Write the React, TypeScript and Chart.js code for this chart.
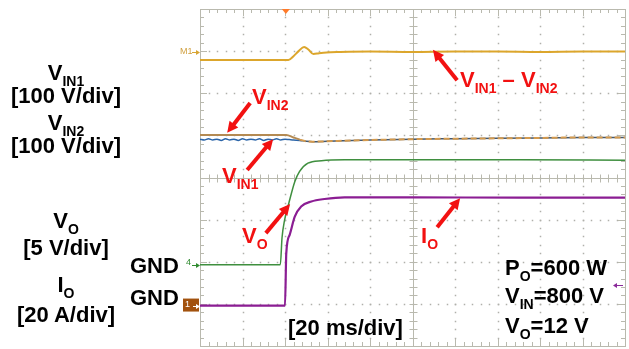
import React, { useEffect, useRef } from "react";
import { Chart, registerables } from "chart.js";
Chart.register(...registerables);

// Oscilloscope screen: 10 horizontal divisions (20 ms/div), 8 vertical divisions
const X_DIVS = 10;
const Y_DIVS = 8;

// V_IN1 - V_IN2 (math channel M1), in divisions
const diffX = [0, 2.08, 2.2, 2.32, 2.45, 2.55, 2.67, 2.8, 2.98, 3.3, 4, 5, 6, 7, 8, 9, 10];
const diffY = [6.79, 6.79, 6.88, 7.0, 7.1, 7.04, 6.93, 6.95, 6.97, 6.98, 6.99, 6.98, 6.99, 6.99, 6.98, 6.99, 6.99];

// V_IN2
const vin2X = [0, 2.03, 2.2, 2.35, 2.5, 2.65, 3.0, 4, 5, 6, 7, 8, 9, 10];
const vin2Y = [5.01, 5.01, 4.95, 4.9, 4.86, 4.85, 4.86, 4.89, 4.91, 4.92, 4.93, 4.94, 4.95, 4.95];

// V_IN1
const vin1X = [0, 0.1, 0.2, 0.3, 0.4, 0.5, 0.6, 0.7, 0.8, 0.9, 1.0, 1.1, 1.2, 1.3, 1.4, 1.5, 1.6, 1.7, 1.8, 1.9, 2.0, 2.1, 2.2, 2.35, 2.5, 2.65, 3.0, 4, 5, 6, 7, 8, 9, 10];
const vin1Y = [4.91, 4.89, 4.92, 4.89, 4.91, 4.88, 4.92, 4.89, 4.91, 4.88, 4.92, 4.89, 4.91, 4.89, 4.92, 4.88, 4.91, 4.89, 4.92, 4.89, 4.91, 4.9, 4.89, 4.88, 4.86, 4.85, 4.86, 4.89, 4.91, 4.92, 4.93, 4.94, 4.95, 4.95];

// V_O
const voX = [0, 1.89, 1.93, 1.99, 2.09, 2.23, 2.34, 2.54, 2.86, 3.4, 5, 7.5, 10];
const voY = [1.93, 1.93, 2.57, 2.99, 3.39, 3.9, 4.14, 4.34, 4.4, 4.42, 4.42, 4.42, 4.41];

// I_O
const ioX = [0, 2.0, 2.03, 2.11, 2.23, 2.38, 2.62, 2.93, 3.4, 5, 7.5, 10];
const ioY = [0.96, 0.96, 2.2, 2.64, 3.07, 3.31, 3.43, 3.49, 3.53, 3.53, 3.52, 3.52];

// channel reference markers (divisions)
const M1_LEVEL = 6.99;
const VO_GND = 1.93;
const IO_GND = 0.96;
const IO_TRIG = 1.45;
const TRIGGER_POS = 2.02;

// red annotation arrows: tail and tip, in divisions
const arrowTail = [
  [1.18, 5.77],
  [1.11, 4.18],
  [6.05, 6.31],
  [1.55, 2.68],
  [5.58, 2.82],
];
const arrowTip = [
  [0.64, 5.06],
  [1.72, 4.91],
  [5.48, 7.03],
  [2.12, 3.37],
  [6.12, 3.51],
];

const pts = (xs: number[], ys: number[]) => xs.map((x, i) => ({ x, y: ys[i] }));

const GRID = "#b9b9ae";
const DOT = "#b0b0aa";
const RED = "#f21111";

const graticule = {
  id: "graticule",
  beforeDatasetsDraw(chart: any) {
    const { ctx, chartArea: a, scales } = chart;
    const sx = scales.x, sy = scales.y;
    const px = (v: number) => Math.round(sx.getPixelForValue(v)) + 0.5;
    const py = (v: number) => Math.round(sy.getPixelForValue(v)) + 0.5;
    ctx.save();
    ctx.fillStyle = DOT;
    for (let i = 1; i < X_DIVS; i++) {
      if (i === X_DIVS / 2) continue;
      for (let j = 1; j < Y_DIVS * 5; j++) ctx.fillRect(px(i) - 0.75, py(j * 0.2) - 0.75, 1.5, 1.5);
    }
    for (let j = 1; j < Y_DIVS; j++) {
      if (j === Y_DIVS / 2) continue;
      for (let i = 1; i < X_DIVS * 5; i++) ctx.fillRect(px(i * 0.2) - 0.75, py(j) - 0.75, 1.5, 1.5);
    }
    ctx.strokeStyle = GRID;
    ctx.lineWidth = 1;
    ctx.beginPath();
    ctx.moveTo(px(X_DIVS / 2), a.top);
    ctx.lineTo(px(X_DIVS / 2), a.bottom);
    ctx.moveTo(a.left, py(Y_DIVS / 2));
    ctx.lineTo(a.right, py(Y_DIVS / 2));
    for (let i = 1; i < X_DIVS * 5; i++) {
      const xx = px(i * 0.2);
      const major = i % 5 === 0;
      ctx.moveTo(xx, py(Y_DIVS / 2) - 4);
      ctx.lineTo(xx, py(Y_DIVS / 2) + 4);
      ctx.moveTo(xx, a.top);
      ctx.lineTo(xx, a.top + (major ? 7 : 4));
      ctx.moveTo(xx, a.bottom);
      ctx.lineTo(xx, a.bottom - (major ? 7 : 4));
    }
    for (let j = 1; j < Y_DIVS * 5; j++) {
      const yy = py(j * 0.2);
      const major = j % 5 === 0;
      ctx.moveTo(px(X_DIVS / 2) - 4, yy);
      ctx.lineTo(px(X_DIVS / 2) + 4, yy);
      ctx.moveTo(a.left, yy);
      ctx.lineTo(a.left + (major ? 7 : 4), yy);
      ctx.moveTo(a.right, yy);
      ctx.lineTo(a.right - (major ? 7 : 4), yy);
    }
    ctx.stroke();
    ctx.strokeRect(px(0), py(Y_DIVS), px(X_DIVS) - px(0), py(0) - py(Y_DIVS));
    ctx.restore();
  },
};

const overlay = {
  id: "overlay",
  afterDatasetsDraw(chart: any) {
    const { ctx, chartArea: a, scales } = chart;
    const sx = scales.x, sy = scales.y;
    ctx.save();
    const rightArrow = (yv: number, color: string, x0: number) => {
      const yy = Math.round(sy.getPixelForValue(yv)) + 0.5;
      ctx.strokeStyle = color;
      ctx.fillStyle = color;
      ctx.lineWidth = 1;
      ctx.beginPath();
      ctx.moveTo(x0, yy);
      ctx.lineTo(a.left - 1, yy);
      ctx.stroke();
      ctx.beginPath();
      ctx.moveTo(a.left, yy);
      ctx.lineTo(a.left - 4, yy - 2.5);
      ctx.lineTo(a.left - 4, yy + 2.5);
      ctx.closePath();
      ctx.fill();
    };
    const y1 = sy.getPixelForValue(IO_GND);
    ctx.fillStyle = "#a2520e";
    ctx.fillRect(a.left - 17, y1 - 7, 16, 13);
    rightArrow(M1_LEVEL, "#d8a533", a.left - 8);
    rightArrow(VO_GND, "#2f8a2f", a.left - 8);
    rightArrow(IO_GND, "#ffffff", a.left - 7);
    const yt = Math.round(sy.getPixelForValue(IO_TRIG)) + 0.5;
    ctx.strokeStyle = "#8a2a9a";
    ctx.fillStyle = "#8a2a9a";
    ctx.beginPath();
    ctx.moveTo(a.right - 11, yt);
    ctx.lineTo(a.right - 2, yt);
    ctx.stroke();
    ctx.beginPath();
    ctx.moveTo(a.right - 12, yt);
    ctx.lineTo(a.right - 8, yt - 2.5);
    ctx.lineTo(a.right - 8, yt + 2.5);
    ctx.closePath();
    ctx.fill();
    const tx = sx.getPixelForValue(TRIGGER_POS);
    ctx.fillStyle = "#ff7a2a";
    ctx.beginPath();
    ctx.moveTo(tx - 4, a.top);
    ctx.lineTo(tx + 4, a.top);
    ctx.lineTo(tx, a.top + 5);
    ctx.closePath();
    ctx.fill();
    ctx.strokeStyle = RED;
    ctx.fillStyle = RED;
    ctx.lineWidth = 4;
    arrowTail.forEach((t, i) => {
      const x0 = sx.getPixelForValue(t[0]);
      const y0 = sy.getPixelForValue(t[1]);
      const x1 = sx.getPixelForValue(arrowTip[i][0]);
      const y1b = sy.getPixelForValue(arrowTip[i][1]);
      const ang = Math.atan2(y1b - y0, x1 - x0);
      const hl = 11, hw = 5.5;
      const bx = x1 - hl * Math.cos(ang);
      const by = y1b - hl * Math.sin(ang);
      ctx.beginPath();
      ctx.moveTo(x0, y0);
      ctx.lineTo(bx + Math.cos(ang), by + Math.sin(ang));
      ctx.stroke();
      ctx.beginPath();
      ctx.moveTo(x1, y1b);
      ctx.lineTo(bx + hw * Math.sin(ang), by - hw * Math.cos(ang));
      ctx.lineTo(bx - hw * Math.sin(ang), by + hw * Math.cos(ang));
      ctx.closePath();
      ctx.fill();
    });
    ctx.restore();
  },
};

const FONT = "'Liberation Sans', Arial, Helvetica, sans-serif";

type Part = [string, boolean?];
function Label(props: { x: number; capTop: number; parts: Part[]; color?: string; size?: number; sub?: number; align?: "left" | "center" }) {
  const size = props.size ?? 22;
  const sub = props.sub ?? 14;
  const center = props.align === "center";
  return (
    <div
      style={{
        position: "absolute",
        left: center ? props.x - 100 : props.x,
        width: center ? 200 : undefined,
        textAlign: center ? "center" : "left",
        top: props.capTop - 0.13 * size,
        fontFamily: FONT,
        fontWeight: 700,
        fontSize: size,
        lineHeight: `${size}px`,
        color: props.color ?? "#000",
        whiteSpace: "nowrap",
      }}
    >
      {props.parts.map((p, i) =>
        p[1] ? (
          <span key={i} style={{ fontSize: sub, position: "relative", top: 6 }}>
            {p[0]}
          </span>
        ) : (
          <span key={i}>{p[0]}</span>
        )
      )}
    </div>
  );
}

export default function App() {
  const ref = useRef<HTMLCanvasElement | null>(null);
  useEffect(() => {
    if (!ref.current) return;
    const line = (data: any, color: string, width: number, order: number, extra: any = {}) => ({
      data,
      borderColor: color,
      borderWidth: width,
      pointRadius: 0,
      cubicInterpolationMode: "monotone",
      fill: false,
      order,
      ...extra,
    });
    const chart = new Chart(ref.current, {
      type: "line",
      data: {
        datasets: [
          line(pts(vin1X, vin1Y), "#2a64a8", 1.5, 5, {
            segment: { borderColor: (c: any) => (c.p0.parsed.x >= 2.3 ? "#44586e" : undefined) },
          }) as any,
          line(pts(vin2X, vin2Y), "#b48a52", 2, 4, {
            segment: {
              borderDash: (c: any) => (c.p0.parsed.x >= 2.3 ? [6, 3] : undefined),
              borderColor: (c: any) => (c.p0.parsed.x >= 2.3 ? "#d49a4e" : undefined),
            },
          }) as any,
          line(pts(diffX, diffY), "#dca62c", 2, 3) as any,
          line(pts(voX, voY), "#3f8f3f", 1.5, 2) as any,
          line(pts(ioX, ioY), "#8b1d93", 2.2, 1) as any,
        ],
      },
      options: {
        animation: false,
        responsive: false,
        devicePixelRatio: 1,
        layout: { padding: { left: 200, right: 4, top: 9, bottom: 3 } },
        plugins: { legend: { display: false }, tooltip: { enabled: false } },
        scales: {
          x: { type: "linear", min: 0, max: X_DIVS, display: false },
          y: { type: "linear", min: 0, max: Y_DIVS, display: false },
        },
      },
      plugins: [graticule, overlay],
    });
    return () => chart.destroy();
  }, []);

  return (
    <div style={{ position: "absolute", left: 0, top: 0, width: 629, height: 349, background: "#fff", overflow: "hidden" }}>
      <canvas ref={ref} width={629} height={349} style={{ position: "absolute", left: 0, top: 0, width: 629, height: 349 }} />
      <Label x={66} capTop={65} align="center" parts={[["V"], ["IN1", true]]} />
      <Label x={66} capTop={88} align="center" parts={[["[100 V/div]"]]} />
      <Label x={66} capTop={115} align="center" parts={[["V"], ["IN2", true]]} />
      <Label x={66} capTop={138} align="center" parts={[["[100 V/div]"]]} />
      <Label x={66} capTop={213} align="center" parts={[["V"], ["O", true]]} />
      <Label x={66} capTop={240} align="center" parts={[["[5 V/div]"]]} />
      <Label x={66} capTop={277} align="center" parts={[["I"], ["O", true]]} />
      <Label x={66} capTop={307} align="center" parts={[["[20 A/div]"]]} />
      <Label x={130} capTop={258} parts={[["GND"]]} />
      <Label x={130} capTop={290} parts={[["GND"]]} />
      <div style={{ position: "absolute", left: 180, top: 46, fontFamily: FONT, fontSize: 9, color: "#d0a040" }}>M1</div>
      <div style={{ position: "absolute", left: 186, top: 257, fontFamily: FONT, fontSize: 9, color: "#2f8a2f" }}>4</div>
      <div style={{ position: "absolute", left: 185, top: 299, fontFamily: FONT, fontSize: 9, color: "#ffffff" }}>1</div>
      <Label x={252} capTop={89} color={RED} parts={[["V"], ["IN2", true]]} />
      <Label x={460} capTop={72} color={RED} parts={[["V"], ["IN1", true], [" – V"], ["IN2", true]]} />
      <Label x={222} capTop={168} color={RED} parts={[["V"], ["IN1", true]]} />
      <Label x={242} capTop={228} color={RED} parts={[["V"], ["O", true]]} />
      <Label x={421} capTop={228} color={RED} parts={[["I"], ["O", true]]} />
      <Label x={288} capTop={320} parts={[["[20 ms/div]"]]} />
      <Label x={505} capTop={260} parts={[["P"], ["O", true], ["=600 W"]]} />
      <Label x={505} capTop={288} parts={[["V"], ["IN", true], ["=800 V"]]} />
      <Label x={505} capTop={318} parts={[["V"], ["O", true], ["=12 V"]]} />
    </div>
  );
}
